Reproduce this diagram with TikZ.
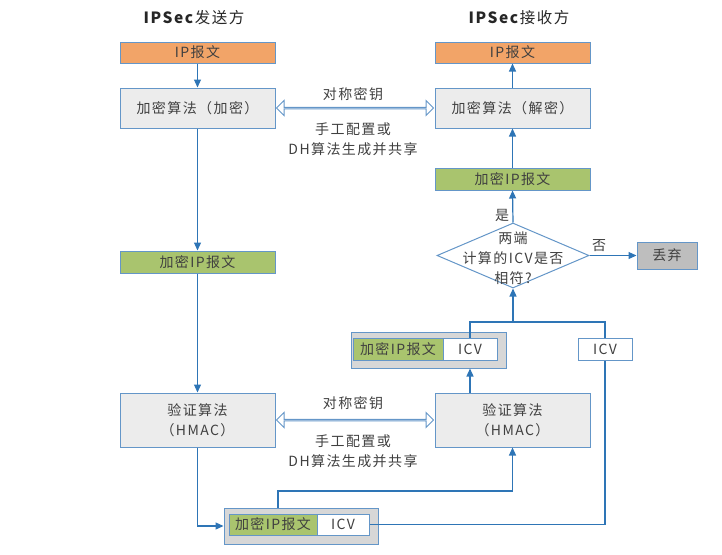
\documentclass[tikz,border=0pt]{standalone}
\usepackage{fontspec}
\setmainfont{Noto Sans CJK SC}[LetterSpace=10]
\usetikzlibrary{arrows.meta, positioning, shapes.geometric, shapes.arrows, calc}
\definecolor{lineblue}{RGB}{46,117,182}
\definecolor{boxblue}{RGB}{100,150,200}
\definecolor{pktorange}{RGB}{242,164,104}
\definecolor{pktgreen}{RGB}{169,196,110}
\definecolor{boxgray}{RGB}{236,236,236}
\definecolor{dropgray}{RGB}{190,190,190}
\definecolor{pktgray}{RGB}{215,215,215}
\definecolor{txt}{RGB}{64,64,64}

\begin{document}
\begin{tikzpicture}[x=1pt, y=-1pt,
            box/.style = {draw=boxblue, line width=1pt, inner sep=0pt, text=txt,
                          font=\fontsize{14}{20}\selectfont, align=center},
            ttl/.style = {font=\fontsize{15.5}{18}\selectfont, text=black!85},
            lbl/.style = {text=txt, font=\fontsize{14}{20}\selectfont, align=center},
            flow/.style = {draw=lineblue, line width=1.2pt},
            key/.style = {double arrow, draw=boxblue, line width=1pt, fill=white, inner sep=0pt,
                          minimum width=15pt, double arrow head extend=4.5pt},
            >={Triangle[length=8pt,width=7pt]}]
            \useasboundingbox (0,0) rectangle (722,554);
            % titles
            \node[ttl] (ttlS) at (194,18) {\textbf{IPSec}发送方};
            \node[ttl] (ttlR) at (519,18) {\textbf{IPSec}接收方};
            % sender column
            \node[box, fill=pktorange, minimum width=155pt, minimum height=21pt] (ipS) at (197.5,52.5) {IP报文};
            \node[box, fill=boxgray, minimum width=155pt, minimum height=40pt] (encS) at (197.5,108) {加密算法（加密）};
            \node[box, fill=pktgreen, minimum width=155pt, minimum height=22pt] (grnS) at (197.5,262) {加密IP报文};
            \node[box, fill=boxgray, minimum width=155pt, minimum height=54pt] (vrfS) at (197.5,420) {验证算法\\（HMAC）};
            % receiver column
            \node[box, fill=pktorange, minimum width=155pt, minimum height=21pt] (ipR) at (512.5,52.5) {IP报文};
            \node[box, fill=boxgray, minimum width=155pt, minimum height=40pt] (encR) at (512.5,108) {加密算法（解密）};
            \node[box, fill=pktgreen, minimum width=155pt, minimum height=22pt] (grnR) at (512.5,179) {加密IP报文};
            \node[box, fill=boxgray, minimum width=155pt, minimum height=54pt] (vrfR) at (512.5,420) {验证算法\\（HMAC）};
            % decision
            \node[diamond, draw=boxblue, line width=1pt, fill=white, inner sep=0pt,
                  minimum width=152pt, minimum height=65pt] (cmp) at (513,255.5) {};
            \node[lbl, font=\fontsize{14}{20}\selectfont] (cmpT) at (513,258) {两端\\计算的ICV是否\\相符?};
            \node[box, fill=dropgray, minimum width=60pt, minimum height=27pt] (drop) at (667,255.5) {丢弃};
            \node[lbl] (yes) at (502,215) {是};
            \node[lbl] (no) at (599,246) {否};
            % received packet and computed ICV
            \node[box, fill=pktgray, minimum width=155pt, minimum height=36pt] (pktR) at (428.5,350) {};
            \node[box, fill=pktgreen, minimum width=90pt, minimum height=22pt] (gR) at (398,349) {加密IP报文};
            \node[box, fill=white, minimum width=54pt, minimum height=22pt] (iR) at (470,349) {ICV};
            \node[box, fill=white, minimum width=54pt, minimum height=22pt] (icvR) at (605,349) {ICV};
            % sent packet
            \node[box, fill=pktgray, minimum width=154pt, minimum height=36pt] (pktS) at (301,526) {};
            \node[box, fill=pktgreen, minimum width=88pt, minimum height=21pt] (gS) at (273,524.5) {加密IP报文};
            \node[box, fill=white, minimum width=52pt, minimum height=21pt] (iS) at (343,524.5) {ICV};
            % shared keys
            \path let \p1 = (encS.east), \p2 = (encR.west) in
                node[key, minimum height={\x2-\x1-2pt}] (key1) at ($(\p1)!0.5!(\p2)$) {};
            \path let \p1 = (vrfS.east), \p2 = (vrfR.west) in
                node[key, minimum height={\x2-\x1-2pt}] (key2) at ($(\p1)!0.5!(\p2)$) {};
            \node[lbl] (k1) at (353,94) {对称密钥};
            \node[lbl] (m1) at (353,139) {手工配置或\\DH算法生成并共享};
            \node[lbl] (k2) at (353,403) {对称密钥};
            \node[lbl] (m2) at (353,451.5) {手工配置或\\DH算法生成并共享};
            % flows
            \coordinate (up) at (278,491);
            \coordinate (join) at (513,322);
            \draw[flow,->] (ipS) -- (encS);
            \draw[flow,->] (encS) -- (grnS);
            \draw[flow,->] (grnS) -- (vrfS);
            \draw[flow,->] (vrfS.south) |- (pktS.west);
            \draw[flow,->] (pktS.north -| up) -- (up) -| (vrfR.south);
            \draw[flow] (iS.east) -| (icvR.south);
            \draw[flow,->] (vrfR.north -| iR) -- (pktR.south -| iR);
            \draw[flow] (iR.north) |- (join) -| (icvR.north);
            \draw[flow,->] (join) -- (cmp.south);
            \draw[flow,->] (cmp.east) -- (drop.west);
            \draw[flow,->] (cmp.north) -- (grnR.south);
            \draw[flow,->] (grnR) -- (encR);
            \draw[flow,->] (encR) -- (ipR);
\end{tikzpicture}
\end{document}
